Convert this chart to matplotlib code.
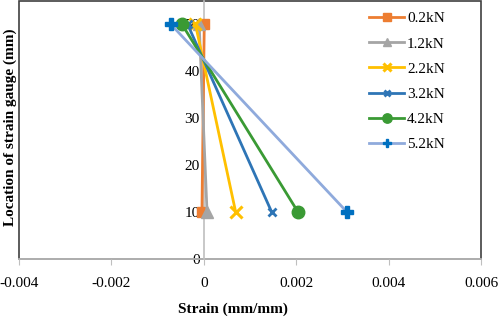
import matplotlib
matplotlib.use("Agg")
import matplotlib.pyplot as plt
from matplotlib.patches import Rectangle

plt.rcParams['font.family'] = ['Liberation Serif', 'DejaVu Serif']

locations = [10, 50]
loads = ['0.2kN', '1.2kN', '2.2kN', '3.2kN', '4.2kN', '5.2kN']
strains = [
    [-0.00004, 0.00001],
    [0.00007, -0.0001],
    [0.00069, -0.00018],
    [0.00147, -0.00035],
    [0.00204, -0.00047],
    [0.00310, -0.00071],
]
line_colors = ['#ED7D31', '#A5A5A5', '#FFC000', '#2E75B6', '#3A9A34', '#8FAADC']
marker_colors = ['#ED7D31', '#A5A5A5', '#FFC000', '#2E75B6', '#3A9A34', '#0070C0']
markers = ['s', '^', 'x', 'x', 'o', 'P']
marker_sizes = [7, 8, 8, 6, 9, 8]
edge_widths = [1, 1, 2.2, 2, 1, 1]

fig = plt.figure(figsize=(4.98, 3.18), dpi=100)
ax = fig.add_axes([19 / 498, 59 / 318, 462 / 498, 258 / 318])

for name, xs, lc, mc, m, ms, mew in zip(loads, strains, line_colors, marker_colors,
                                        markers, marker_sizes, edge_widths):
    ax.plot(xs, locations, color=lc, lw=2, marker=m, markersize=ms,
            markerfacecolor=mc, markeredgecolor=mc, markeredgewidth=mew,
            label=name, clip_on=False, zorder=3)

ax.set_xlim(-0.004, 0.006)
ax.set_ylim(0, 55)
ax.set_xticks([-0.004, -0.002, 0, 0.002, 0.004, 0.006])
ax.set_xticklabels(['-0.004', '-0.002', '0', '0.002', '0.004', '0.006'])
ax.set_yticks([0, 10, 20, 30, 40, 50])

for s in ['top', 'right']:
    ax.spines[s].set_visible(False)
ax.spines['left'].set_position(('data', 0))
ax.spines['left'].set_color('#BFBFBF')
ax.spines['left'].set_linewidth(1.2)
ax.spines['bottom'].set_color('#BFBFBF')
ax.spines['bottom'].set_linewidth(1.2)
ax.tick_params(axis='x', colors='#BFBFBF', labelcolor='black', labelsize=11,
               length=4, direction='out', pad=9)
ax.tick_params(axis='y', length=0, labelsize=11, pad=3)

ax.add_patch(Rectangle((0, 0), 1, 1, transform=ax.transAxes, fill=False,
                       edgecolor='#404040', lw=1.2, clip_on=False, zorder=1))

fig.text(233 / 498, 1 - 309 / 318, 'Strain (mm/mm)', ha='center', va='center',
         fontsize=11, fontweight='bold')
fig.text(10 / 498, 1 - 127 / 318, 'Location of strain gauge (mm)', ha='center',
         va='center', rotation=90, fontsize=11, fontweight='bold')

ax.legend(loc='upper right', bbox_to_anchor=(0.945, 1.0), frameon=False,
          fontsize=11, handlelength=2.3, labelspacing=0.75, handletextpad=0.2,
          borderaxespad=0.3, markerscale=0.75)

fig.savefig('out.png', dpi=100)
